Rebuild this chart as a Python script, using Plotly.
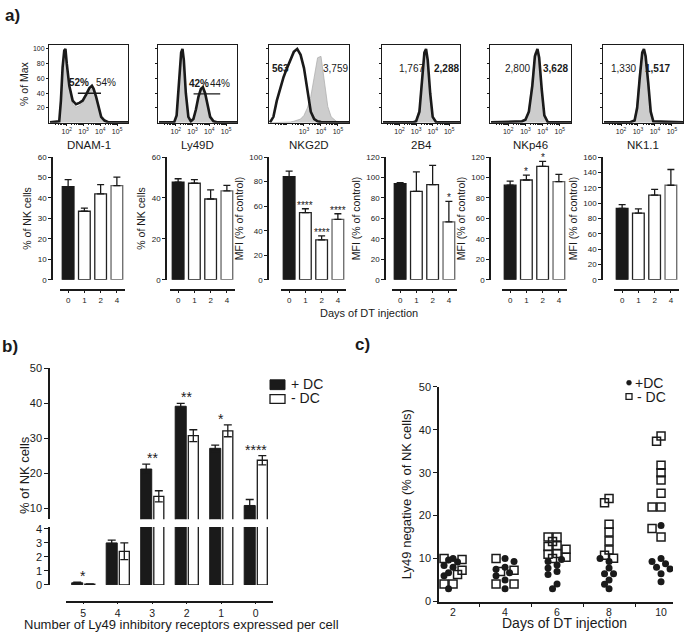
import math
import plotly.graph_objects as go

W, H = 685, 637
FONT = "Arial, 'Liberation Sans', sans-serif"
INK = "#1a1a1a"

# ======================= DATA =======================
# ---- a) flow histograms: x = log10 fluorescence, y = % of max ----
hist_titles = ["DNAM-1", "Ly49D", "NKG2D", "2B4", "NKp46", "NK1.1"]

dnam1_log = [1.0, 1.55, 1.65, 1.75, 1.85, 1.92, 2.0, 2.15, 2.35, 2.55, 2.75, 2.95, 3.15,
             3.35, 3.5, 3.6, 3.75, 3.9, 4.05, 4.25, 4.5, 5.7]
dnam1_ctrl = [0.5, 1, 25, 72, 97, 98, 78, 45, 25, 21, 23, 27, 35, 43, 46, 43, 33, 18, 7, 2, 0.5, 0.5]
dnam1_dt = [0.5, 2, 30, 75, 98, 100, 80, 50, 30, 25, 27, 30, 38, 47, 50, 46, 35, 20, 8, 3, 0.5, 0.5]

ly49d_log = [1.0, 1.9, 2.05, 2.2, 2.32, 2.4, 2.48, 2.6, 2.75, 2.9, 3.05, 3.2, 3.35, 3.5,
             3.62, 3.75, 3.9, 4.05, 4.25, 4.5, 5.7]
ly49d_ctrl = [0.5, 0.5, 8, 50, 92, 97, 82, 38, 7, 2, 5, 17, 33, 44, 46, 38, 20, 7, 2, 0.5, 0.5]
ly49d_dt = [0.5, 0.5, 10, 55, 95, 100, 85, 40, 8, 2, 5, 18, 35, 46, 48, 40, 22, 8, 2, 0.5, 0.5]

nkg2d_log = [1.0, 1.2, 1.4, 1.6, 1.8, 2.0, 2.2, 2.4, 2.6, 2.8, 3.0, 3.2, 3.4, 3.6, 3.8,
             4.0, 4.2, 4.4, 4.6, 4.9, 5.7]
nkg2d_ctrl = [0, 0, 0, 0, 0, 1, 1, 2, 3, 5, 10, 20, 35, 62, 88, 90, 55, 22, 8, 2, 0]
nkg2d_dt = [0.5, 8, 30, 48, 62, 74, 86, 96, 100, 92, 74, 45, 15, 5, 2, 1, 0.5, 0.5, 0.5, 0.5, 0.5]

b2b4_log = [1.0, 2.8, 3.0, 3.2, 3.35, 3.5, 3.6, 3.7, 3.85, 4.0, 4.2, 5.7]
b2b4_ctrl = [0.5, 0.5, 3, 20, 62, 97, 98, 78, 33, 6, 1, 0.5]
b2b4_dt = [0.5, 0.5, 2, 15, 55, 95, 100, 85, 40, 8, 1, 0.5]

nkp46_log = [1.0, 2.4, 2.8, 3.0, 3.2, 3.4, 3.55, 3.7, 3.8, 3.95, 4.1, 4.3, 5.7]
nkp46_ctrl = [0.5, 0.5, 1, 3, 18, 60, 95, 97, 78, 35, 8, 1, 0.5]
nkp46_dt = [0.5, 1, 2, 4, 15, 50, 90, 100, 88, 45, 10, 1, 0.5]

nk11_log = [1.0, 2.5, 2.8, 2.95, 3.1, 3.25, 3.35, 3.45, 3.6, 3.75, 3.9, 5.7]
nk11_ctrl = [0.5, 0.5, 5, 28, 70, 98, 95, 80, 45, 10, 1, 0.5]
nk11_dt = [0.5, 0.5, 3, 20, 60, 95, 100, 90, 55, 15, 2, 0.5]

hist_left_labels = ["52%", "42%", "563", "1,767", "2,800", "1,330"]
hist_right_labels = ["54%", "44%", "3,759", "2,288", "3,628", "1,517"]
hist_bold_left = [True, True, True, False, False, False]

dnam1_gate = [2.66, 4.04]
dnam1_gate_level = 40
ly49d_gate = [3.06, 4.65]
ly49d_gate_level = 39

# ---- a) bar charts (mean + SEM) ----
bar_days = ["0", "1", "2", "4"]
dnam1_pct = [45.5, 33.5, 42, 46]
dnam1_sem = [3.5, 1.5, 4.5, 4.2]
ly49d_pct = [47.8, 47.2, 39.5, 43.5]
ly49d_sem = [1.6, 1.8, 4.5, 2.7]
nkg2d_mfi = [84, 54.7, 32.5, 49.3]
nkg2d_sem = [4.5, 3.2, 3.2, 4.5]
b2b4_mfi = [94, 86.5, 93, 56.6]
b2b4_sem = [1, 19, 19, 20]
nkp46_mfi = [92.5, 97.6, 111, 96]
nkp46_sem = [4, 4.8, 4.8, 7]
nk11_mfi = [93, 87, 110.5, 123.3]
nk11_sem = [5, 5.5, 7.5, 20.5]
bar_stars = [["", "", "", ""], ["", "", "", ""], ["", "****", "****", "****"],
             ["", "", "", "*"], ["", "*", "*", ""], ["", "", "", ""]]
bar_ytitles = ["% of NK cells", "% of NK cells", "MFI (% of control)",
               "MFI (% of control)", "MFI (% of control)", "MFI (% of control)"]
bar_ymax = [60, 60, 100, 120, 120, 160]
bar_dtick = [10, 20, 20, 20, 20, 20]

# ---- b) number of Ly49 inhibitory receptors ----
b_cats = ["5", "4", "3", "2", "1", "0"]
b_plus = [0.15, 3.0, 21.2, 39.1, 27.1, 10.8]
b_plus_err = [0.05, 0.2, 1.4, 0.8, 0.9, 1.7]
b_minus = [0.05, 2.4, 13.4, 30.7, 32.1, 23.7]
b_minus_err = [0.02, 0.6, 1.6, 1.7, 1.7, 1.3]
b_stars = ["*", "", "**", "**", "*", "****"]

# ---- c) Ly49 negative NK cells over time ----
c_days = [2, 4, 6, 8, 10]
c_plus = [
    [10, 9.7, 9.2, 8.4, 8, 6.7, 6, 3],
    [10, 9.3, 8, 7.5, 6.7, 6, 5, 3],
    [9.8, 9.3, 8.5, 7.8, 7, 6.3, 4.1, 3],
    [10, 9.3, 7.8, 6.5, 6.5, 5, 4, 3],
    [17.7, 10, 9.3, 8.8, 8, 7.6, 6.5, 4.6],
]
c_minus = [
    [10, 9.8, 7.3, 6.3, 4.1, 4.1],
    [10, 7.3, 7, 4.1, 4.1],
    [15, 15, 14, 13, 12.8, 12.2, 11.2, 11, 10.3, 10],
    [24, 23, 18, 16.2, 14.1, 12, 10.8, 10.1],
    [38.5, 37.3, 31.7, 30, 28.3, 25.2, 22, 22, 17, 15],
]

# ======================= HELPERS =======================
def fx(p):
    return p / W


def fy(p):
    return 1 - p / H


def an(i):
    return "" if i == 1 else str(i)


fig = go.Figure()
layout = dict(width=W, height=H, margin=dict(l=0, r=0, t=0, b=0),
              paper_bgcolor="white", plot_bgcolor="rgba(0,0,0,0)",
              showlegend=False, font=dict(family=FONT, color=INK, size=11),
              barmode="group")
annotations = []
shapes = []


def note(text, x, y, size, bold=False, xanchor="center", yanchor="middle", angle=0,
         xref="paper", yref="paper", yshift=0):
    annotations.append(dict(text=f"<b>{text}</b>" if bold else text,
                            x=x, y=y, xref=xref, yref=yref, showarrow=False,
                            xanchor=xanchor, yanchor=yanchor, textangle=angle,
                            yshift=yshift,
                            font=dict(family=FONT, size=size, color=INK)))


# ======================= a) histograms =======================
hist_data = [(dnam1_log, dnam1_ctrl, dnam1_dt), (ly49d_log, ly49d_ctrl, ly49d_dt),
             (nkg2d_log, nkg2d_ctrl, nkg2d_dt), (b2b4_log, b2b4_ctrl, b2b4_dt),
             (nkp46_log, nkp46_ctrl, nkp46_dt), (nk11_log, nk11_ctrl, nk11_dt)]
hist_boxes = [(49, 128), (158, 237), (269, 349), (382, 460), (490, 571), (603, 683)]
hist_lab_left_x = [2.7, 3.41, 1.6, 2.7, 2.53, 2.12]
hist_lab_right_x = [4.35, 4.62, 4.88, 4.82, 4.76, 4.12]
hist_lab_y = [55, 53, 74, 74, 74, 74]
minor_vals = [d + math.log10(k) for d in range(1, 5) for k in range(2, 10)]

for i, (xs, ctrl, dt) in enumerate(hist_data, start=1):
    xa, ya = "x" + an(i), "y" + an(i)
    fig.add_trace(go.Scatter(x=xs, y=ctrl, xaxis=xa, yaxis=ya, mode="lines",
                             fill="tozeroy", fillcolor="#cdcdcd",
                             line=dict(color="#b0b0b0", width=0.8), hoverinfo="skip"))
    fig.add_trace(go.Scatter(x=xs, y=dt, xaxis=xa, yaxis=ya, mode="lines",
                             line=dict(color=INK, width=2.6), hoverinfo="skip"))
    l, r = hist_boxes[i - 1]
    if i == 3:
        tv, tt = [3, 4, 5], ["10<sup>3</sup>", "10<sup>4</sup>", "10<sup>5</sup>"]
    else:
        tv, tt = [2, 3, 4, 5], ["10<sup>2</sup>", "10<sup>3</sup>", "10<sup>4</sup>", "10<sup>5</sup>"]
    layout["xaxis" + an(i)] = dict(
        domain=[fx(l), fx(r)], range=[0.94, 5.65], anchor=ya, showline=True, mirror=True,
        linecolor=INK, linewidth=1, ticks="outside", ticklen=2, tickcolor=INK,
        tickvals=tv, ticktext=tt, tickfont=dict(size=7, family=FONT, color=INK),
        showgrid=False, zeroline=False,
        minor=dict(tickmode="array", tickvals=minor_vals, ticks="outside", ticklen=1.5,
                   tickcolor=INK, showgrid=False))
    layout["yaxis" + an(i)] = dict(
        domain=[fy(119), fy(40)], range=[0, 105], anchor=xa, showline=True, mirror=True,
        linecolor=INK, linewidth=1, ticks="outside", ticklen=2, tickcolor=INK,
        tickvals=[20, 40, 60, 80, 100], showticklabels=(i == 1),
        tickfont=dict(size=7, family=FONT, color=INK), showgrid=False, zeroline=False,
        title=dict(text="% of Max" if i == 1 else "", font=dict(size=10.5, family=FONT, color=INK),
                   standoff=2))
    note(hist_titles[i - 1], fx((l + r) / 2), fy(142), 11.5)
    note(hist_left_labels[i - 1], hist_lab_left_x[i - 1], hist_lab_y[i - 1], 10,
         bold=hist_bold_left[i - 1], xref=xa, yref=ya)
    note(hist_right_labels[i - 1], hist_lab_right_x[i - 1], hist_lab_y[i - 1], 10,
         bold=not hist_bold_left[i - 1], xref=xa, yref=ya)

# gates
fig.add_trace(go.Scatter(x=dnam1_gate, y=[dnam1_gate_level] * 2, xaxis="x", yaxis="y",
                         mode="lines", line=dict(color=INK, width=1.3), hoverinfo="skip"))
fig.add_trace(go.Scatter(x=ly49d_gate, y=[ly49d_gate_level] * 2, xaxis="x2", yaxis="y2",
                         mode="lines", line=dict(color=INK, width=1.3), hoverinfo="skip"))

# ======================= a) bar charts =======================
bar_vals = [(dnam1_pct, dnam1_sem), (ly49d_pct, ly49d_sem), (nkg2d_mfi, nkg2d_sem),
            (b2b4_mfi, b2b4_sem), (nkp46_mfi, nkp46_sem), (nk11_mfi, nk11_sem)]
bar_yaxis_x = [52, 166, 268, 385, 490, 602]
bar_xdom = [(60, 125), (170, 235), (281, 346), (392, 457), (502, 567), (614, 679)]
for j, (vals, sem) in enumerate(bar_vals):
    k = 7 + j
    xa, ya = f"x{k}", f"y{k}"
    fig.add_trace(go.Bar(
        x=list(range(len(bar_days))), y=vals, xaxis=xa, yaxis=ya, width=0.72,
        marker=dict(color=[INK, "white", "white", "white"],
                    line=dict(color=[INK, "#222222", "#222222", "#666666"], width=1.3)),
        error_y=dict(type="data", array=sem, arrayminus=[0] * len(sem), symmetric=False,
                     color=INK, thickness=1.3, width=3.5),
        hoverinfo="skip"))
    l, r = bar_xdom[j]
    layout[f"xaxis{k}"] = dict(
        domain=[fx(l), fx(r)], anchor="free", position=fy(289), range=[-0.5, 3.5],
        tickvals=list(range(len(bar_days))), ticktext=bar_days, ticks="outside", ticklen=3,
        tickcolor=INK, tickfont=dict(size=8, family=FONT, color=INK), showline=True,
        linecolor=INK, linewidth=1.5, showgrid=False, zeroline=False)
    layout[f"yaxis{k}"] = dict(
        domain=[fy(279), fy(154)], anchor="free", position=fx(bar_yaxis_x[j]),
        range=[0, bar_ymax[j]], dtick=bar_dtick[j], tick0=0, ticks="outside", ticklen=3,
        tickcolor=INK, tickfont=dict(size=8, family=FONT, color=INK), showline=True,
        linecolor=INK, linewidth=1.5, showgrid=False, zeroline=False,
        title=dict(text=bar_ytitles[j], font=dict(size=10.5, family=FONT, color=INK), standoff=3))
    for idx, st in enumerate(bar_stars[j]):
        if st:
            note(st, idx, vals[idx] + sem[idx], 10, xref=xa, yref=ya, yanchor="bottom", yshift=-4)

note("Days of DT injection", fx(369), fy(313), 11)

# ======================= b) =======================
for ya in ("y13", "y14"):
    fig.add_trace(go.Bar(
        x=list(range(len(b_cats))), y=b_plus, xaxis="x13", yaxis=ya, offset=-0.335, width=0.32,
        marker=dict(color=INK, line=dict(color=INK, width=1)),
        error_y=dict(type="data", array=b_plus_err, color=INK, thickness=1.3, width=4),
        hoverinfo="skip"))
    fig.add_trace(go.Bar(
        x=list(range(len(b_cats))), y=b_minus, xaxis="x13", yaxis=ya, offset=0.045, width=0.29,
        marker=dict(color="white", line=dict(color=INK, width=1.3)),
        error_y=dict(type="data", array=b_minus_err, color=INK, thickness=1.3, width=4),
        hoverinfo="skip"))

layout["xaxis13"] = dict(
    domain=[fx(66), fx(273)], anchor="free", position=fy(607), range=[-0.5, 5.5],
    tickvals=list(range(len(b_cats))), ticktext=b_cats, ticks="outside", ticklen=2,
    tickcolor=INK, tickfont=dict(size=10.5, family=FONT, color=INK), showline=True,
    linecolor=INK, linewidth=1.5, showgrid=False, zeroline=False)
layout["yaxis13"] = dict(
    domain=[fy(523), fy(369)], anchor="free", position=fx(49), range=[6.9, 50],
    tickvals=[10, 20, 30, 40, 50], ticks="outside", ticklen=4, tickcolor=INK,
    tickfont=dict(size=11, family=FONT, color=INK), showline=True, linecolor=INK,
    linewidth=1.5, showgrid=False, zeroline=False)
layout["yaxis14"] = dict(
    domain=[fy(590), fy(531)], anchor="free", position=fx(49), range=[0, 4.14],
    tickvals=[0, 1, 2, 3, 4], ticks="outside", ticklen=4, tickcolor=INK,
    tickfont=dict(size=11, family=FONT, color=INK), showline=True, linecolor=INK,
    linewidth=1.5, showgrid=False, zeroline=False)

for idx, st in enumerate(b_stars):
    if not st:
        continue
    top = max(b_plus[idx] + b_plus_err[idx], b_minus[idx] + b_minus_err[idx])
    note(st, idx, top, 14, xref="x13", yref="y14" if top < 4 else "y13", yanchor="bottom",
         yshift=-4)

note("% of NK cells", fx(25), fy(478), 13, angle=-90)
note("Number of Ly49 inhibitory receptors expressed per cell", fx(181), fy(630), 13)

# legend b
shapes.append(dict(type="rect", xref="paper", yref="paper", x0=fx(270), x1=fx(285),
                   y0=fy(391), y1=fy(381), fillcolor=INK, line=dict(color=INK, width=1)))
shapes.append(dict(type="rect", xref="paper", yref="paper", x0=fx(270), x1=fx(285),
                   y0=fy(405), y1=fy(396), fillcolor="white", line=dict(color=INK, width=1.3)))
note("+ DC", fx(289), fy(385), 14, xanchor="left")
note("- DC", fx(289), fy(400), 14, xanchor="left")

# ======================= c) =======================
PX_Y = 219 / 50.0
PX_DAY = 26.0
MIN_D = 6.0
cand = [0, -4.5, 4.5, -9, 9]
cx_plus, cy_plus, cx_minus, cy_minus = [], [], [], []
for d, pv, mv in zip(c_days, c_plus, c_minus):
    pts = [(0, v) for v in pv] + [(1, v) for v in mv]
    pts.sort(key=lambda t: -t[1])
    placed = []
    for s, v in pts:
        vy = v * PX_Y
        best, best_gap = cand[0], -1.0
        for off in cand:
            gap = min([math.hypot(off - po, vy - pvv) for po, pvv in placed] or [99.0])
            if gap >= MIN_D:
                best = off
                break
            if gap > best_gap:
                best, best_gap = off, gap
        placed.append((best, vy))
        if s == 0:
            cx_plus.append(d + best / PX_DAY)
            cy_plus.append(v)
        else:
            cx_minus.append(d + best / PX_DAY)
            cy_minus.append(v)

fig.add_trace(go.Scatter(x=cx_minus, y=cy_minus, xaxis="x15", yaxis="y15", mode="markers",
                         marker=dict(symbol="square-open", size=8, color=INK,
                                     line=dict(color=INK, width=1.5)), hoverinfo="skip"))
fig.add_trace(go.Scatter(x=cx_plus, y=cy_plus, xaxis="x15", yaxis="y15", mode="markers",
                         marker=dict(symbol="circle", size=7, color=INK), hoverinfo="skip"))

layout["xaxis15"] = dict(
    domain=[fx(439), fx(673)], anchor="y15", range=[1.46, 10.46],
    tickvals=c_days, ticktext=[str(d) for d in c_days], ticks="",
    tickfont=dict(size=10.5, family=FONT, color=INK), showline=True, linecolor=INK,
    linewidth=1.5, showgrid=False, zeroline=False,
    minor=dict(tickmode="array", tickvals=[3, 5, 7, 9], ticks="outside", ticklen=4,
               tickcolor=INK, tickwidth=1.2, showgrid=False))
layout["yaxis15"] = dict(
    domain=[fy(607), fy(388)], anchor="x15", range=[0, 50], dtick=10, tick0=0,
    ticks="outside", ticklen=4, tickcolor=INK, tickfont=dict(size=11, family=FONT, color=INK),
    showline=True, linecolor=INK, linewidth=1.5, showgrid=False, zeroline=False,
    title=dict(text="Ly49 negative (% of NK cells)", font=dict(size=13, family=FONT, color=INK),
               standoff=4))
note("Days of DT injection", fx(564), fy(629), 14)

# legend c
shapes.append(dict(type="circle", xref="paper", yref="paper", x0=fx(626.5), x1=fx(631.5),
                   y0=fy(386.5), y1=fy(381.5), fillcolor=INK, line=dict(color=INK, width=0.5)))
shapes.append(dict(type="rect", xref="paper", yref="paper", x0=fx(626), x1=fx(632),
                   y0=fy(401), y1=fy(395), fillcolor="white", line=dict(color=INK, width=1.3)))
note("+DC", fx(633), fy(384), 14, xanchor="left")
note("- DC", fx(635), fy(398), 14, xanchor="left")

# panel letters
note("a)", fx(12), fy(10), 17, bold=True)
note("b)", fx(10), fy(347), 17, bold=True)
note("c)", fx(362), fy(345), 17, bold=True)

layout["annotations"] = annotations
layout["shapes"] = shapes
fig.update_layout(**layout)
fig.write_html("out.html", config={"displayModeBar": False},
               post_script="document.body.style.margin='0';document.body.style.overflow='hidden';")
